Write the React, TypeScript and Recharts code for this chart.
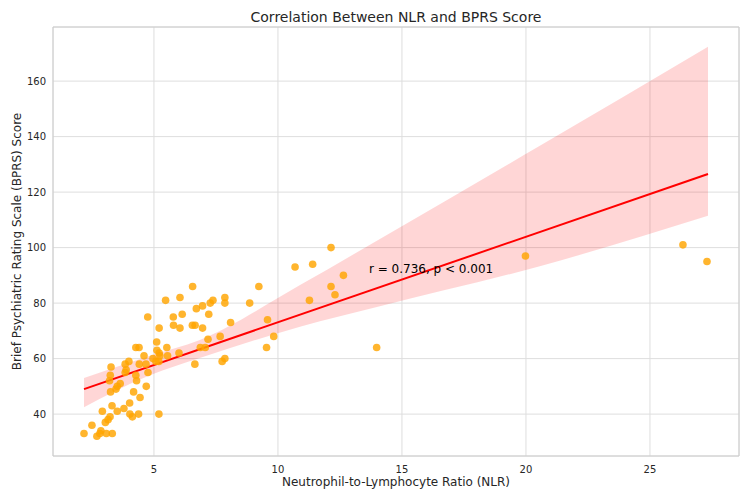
import { Area, CartesianGrid, ComposedChart, Line, ReferenceArea, ReferenceDot, Scatter, XAxis, YAxis } from "recharts";

// observed NLR / BPRS pairs
const nlr = [
  2.18, 2.5, 2.7, 2.82, 2.86, 3.08, 3.32, 2.92, 3.04, 3.15, 3.23, 3.31, 3.52, 3.79, 4.02, 4.03, 4.13, 4.38, 5.2, 4.18,
  4.44, 4.69, 3.25, 3.47, 3.52, 3.64, 3.24, 3.21, 3.27, 3.84, 4.27, 4.3, 3.88, 3.84, 3.99, 4.41, 4.68, 4.6, 4.27, 4.4,
  5.11, 5.12, 5.21, 5.24, 5.52, 5.55, 6.01, 4.96, 5.08, 5.2, 4.76, 5.21, 5.79, 6.05, 6.55, 6.66, 6.65, 4.75, 5.78, 6.14,
  5.47, 6.05, 6.56, 6.71, 6.96, 6.96, 7.21, 7.27, 7.38, 7.86, 7.86, 8.09, 7.18, 7.67, 6.87, 7.07, 7.75, 7.86, 8.86, 9.23,
  9.58, 9.83, 9.54, 10.69, 11.4, 12.14, 12.64, 12.14, 12.3, 11.27, 13.98, 19.98, 26.33, 27.3,
];
const bprs = [
  33, 36, 32, 33, 34, 33, 33, 41, 37, 38, 39, 43, 41, 42, 44, 40, 39, 40, 40, 48,
  46, 50, 48, 49, 50, 51, 54, 52, 57, 55, 54, 52, 56, 58, 59, 58, 58, 61, 64, 64,
  66, 63, 62, 61, 64, 61, 62, 60, 59, 59, 55, 71, 72, 71, 72, 72, 58, 75, 75, 76,
  81, 82, 86, 78, 79, 71, 76, 80, 81, 82, 80, 73, 67, 68, 64, 64, 59, 60, 80, 86,
  74, 68, 64, 93, 94, 100, 90, 86, 83, 81, 64, 97, 101, 95,
];

// fitted line end points and confidence band edges
const fitX = [2.18, 27.34];
const fitY = [49, 126.5];
const bandX = [2.18, 4.84, 6.85, 10.89, 14.11, 20.56, 27.34];
const bandLo = [42.5, 54, 60.2, 71.5, 78.9, 93.3, 111.5];
const bandHi = [53, 61, 66.7, 86.5, 103.1, 136.7, 172.4];

const xTicks = [5, 10, 15, 20, 25];
const yTicks = [40, 60, 80, 100, 120, 140, 160];
const xDomain = [0.93, 28.59];
const yDomain = [24.9, 179.5];

const points = nlr.map((x, i) => ({ x, y: bprs[i] }));
const fit = fitX.map((x, i) => ({ x, y: fitY[i] }));
const band = bandX.map((x, i) => ({ x, band: [bandLo[i], bandHi[i]] }));

const font = "DejaVu Sans";
const ink = "#262626";

export default function App() {
  return (
    <div style={{ position: "absolute", left: 0, top: 0, width: 750, height: 500, background: "#fff", fontFamily: font }}>
      <div
        style={{
          position: "absolute",
          left: 53,
          width: 686,
          top: 7,
          textAlign: "center",
          fontSize: 14,
          lineHeight: "20px",
          color: ink,
        }}
      >
        Correlation Between NLR and BPRS Score
      </div>
      <ComposedChart width={750} height={500} margin={{ top: 27, right: 11, bottom: 0, left: 0 }}>
        <CartesianGrid stroke="#dedede" strokeWidth={1} />
        <XAxis
          type="number"
          dataKey="x"
          domain={xDomain}
          ticks={xTicks}
          allowDataOverflow
          height={44}
          axisLine={false}
          tickLine={false}
          tickSize={0}
          tickMargin={10}
          tick={{ fontSize: 10, fill: ink, fontFamily: font }}
          label={{
            content: ({ viewBox }: any) => (
              <text x={viewBox.x + viewBox.width / 2} y={486} textAnchor="middle" fontSize={12} fill={ink} fontFamily={font}>
                Neutrophil-to-Lymphocyte Ratio (NLR)
              </text>
            ),
          }}
        />
        <YAxis
          type="number"
          domain={yDomain}
          ticks={yTicks}
          allowDataOverflow
          width={53}
          axisLine={false}
          tickLine={false}
          tickSize={0}
          tickMargin={7}
          tick={{ fontSize: 10, fill: ink, fontFamily: font }}
          label={{
            content: ({ viewBox }: any) => {
              const cy = viewBox.y + viewBox.height / 2;
              return (
                <text
                  x={17}
                  y={cy}
                  transform={`rotate(-90, 17, ${cy})`}
                  textAnchor="middle"
                  dominantBaseline="central"
                  fontSize={12}
                  fill={ink}
                  fontFamily={font}
                >
                  Brief Psychiatric Rating Scale (BPRS) Score
                </text>
              );
            },
          }}
        />
        <Scatter
          data={points}
          dataKey="y"
          isAnimationActive={false}
          shape={(p: any) => <circle cx={p.cx} cy={p.cy} r={3.8} fill="#ffa500" fillOpacity={0.82} />}
        />
        <Area
          data={band}
          dataKey="band"
          type="monotone"
          stroke="none"
          fill="#ff0000"
          fillOpacity={0.16}
          isAnimationActive={false}
        />
        <Line data={fit} dataKey="y" stroke="#ff0000" strokeWidth={2} dot={false} isAnimationActive={false} />
        <ReferenceDot
          x={13.67}
          y={92.25}
          r={0}
          stroke="none"
          label={{
            content: ({ viewBox }: any) => (
              <text x={viewBox.x} y={viewBox.y} dominantBaseline="central" fontSize={12} fill="#000" fontFamily={font}>
                r = 0.736, p &lt; 0.001
              </text>
            ),
          }}
        />
        <ReferenceArea
          x1={xDomain[0]}
          x2={xDomain[1]}
          y1={yDomain[0]}
          y2={yDomain[1]}
          fill="none"
          stroke="#cccccc"
          strokeWidth={1}
        />
      </ComposedChart>
    </div>
  );
}
